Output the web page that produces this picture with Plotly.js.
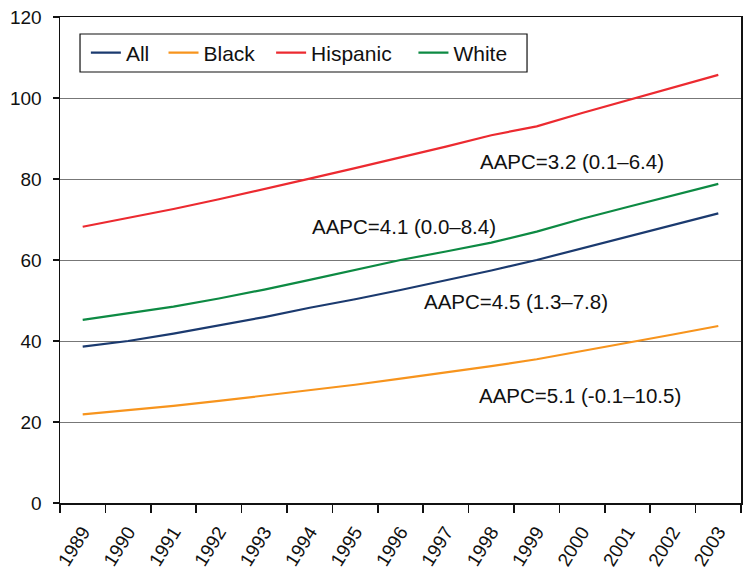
<!DOCTYPE html>
<html>
<head>
<meta charset="utf-8">
<script src="https://cdn.plot.ly/plotly-3.0.1.min.js"></script>
<style>
  html, body { margin: 0; padding: 0; background: #fff; }
  #chart { width: 752px; height: 578px; }
</style>
</head>
<body>
<div id="chart"></div>
<script>
(function () {
    'use strict';

    var years = ['1989', '1990', '1991', '1992', '1993', '1994', '1995', '1996',
                 '1997', '1998', '1999', '2000', '2001', '2002', '2003'];

    var allRates      = [38.6, 40.0, 41.8, 43.8, 45.9, 48.2, 50.3, 52.6, 55.0, 57.4, 60.0, 62.9, 65.8, 68.6, 71.5];
    var blackRates    = [21.9, 22.9, 24.0, 25.2, 26.5, 27.9, 29.2, 30.7, 32.2, 33.8, 35.5, 37.5, 39.6, 41.6, 43.7];
    var hispanicRates = [68.2, 70.4, 72.6, 75.0, 77.5, 80.1, 82.7, 85.3, 88.0, 90.8, 93.0, 96.3, 99.4, 102.6, 105.7];
    var whiteRates    = [45.2, 46.8, 48.5, 50.5, 52.7, 55.1, 57.5, 60.0, 62.1, 64.3, 67.0, 70.2, 73.1, 75.9, 78.8];

    var seriesNames  = ['All', 'Black', 'Hispanic', 'White'];
    var seriesColors = ['#1b3a6f', '#f7941d', '#ec2a30', '#0d8a43'];
    var seriesValues = [allRates, blackRates, hispanicRates, whiteRates];

    var aapcLabels = ['AAPC=3.2 (0.1\u20136.4)', 'AAPC=4.1 (0.0\u20138.4)',
                      'AAPC=4.5 (1.3\u20137.8)', 'AAPC=5.1 (-0.1\u201310.5)'];

    var font = 'Liberation Sans, Arial, sans-serif';

    // one legend per series so the entries sit where the original has them
    var legendIds = ['legend', 'legend2', 'legend3', 'legend4'];
    var legendX = [0.038, 0.152, 0.31, 0.519];

    var data = seriesNames.map(function (name, i) {
        return {
            x: years,
            y: seriesValues[i],
            type: 'scatter',
            mode: 'lines',
            name: name,
            legend: legendIds[i],
            line: { color: seriesColors[i], width: 2.2 }
        };
    });

    // label spots, in paper units of the plot area
    var labelPos = [[0.752, 0.702], [0.505, 0.568], [0.67, 0.414], [0.764, 0.222]];

    var annotations = aapcLabels.map(function (txt, i) {
        return {
            text: txt,
            xref: 'paper', yref: 'paper',
            x: labelPos[i][0], y: labelPos[i][1],
            xanchor: 'center', yanchor: 'middle',
            showarrow: false,
            font: { family: font, size: 20.5, color: '#111' }
        };
    });

    var layout = {
        width: 752,
        height: 578,
        margin: { l: 60, r: 11, t: 17, b: 75 },
        paper_bgcolor: '#fff',
        plot_bgcolor: '#fff',
        font: { family: font, size: 18, color: '#111' },
        showlegend: true,
        xaxis: {
            type: 'category',
            range: [-0.5, 14.5],
            tickson: 'boundaries',
            ticks: 'outside',
            ticklen: 8,
            tickwidth: 1.5,
            tickcolor: '#111',
            tickangle: -58,
            ticklabelstandoff: 9,
            tickfont: { family: font, size: 19, color: '#111' },
            showgrid: false,
            showline: true,
            linecolor: '#111',
            linewidth: 1.5,
            mirror: true,
            zeroline: false,
            fixedrange: true
        },
        yaxis: {
            range: [0, 120],
            dtick: 20,
            ticks: 'outside',
            ticklen: 6,
            tickwidth: 1.5,
            tickcolor: '#111',
            ticklabelstandoff: 7,
            tickfont: { family: font, size: 19, color: '#111' },
            showgrid: true,
            gridcolor: '#777',
            gridwidth: 1,
            showline: true,
            linecolor: '#111',
            linewidth: 1.5,
            mirror: true,
            zeroline: false,
            fixedrange: true
        },
        shapes: [{
            type: 'rect',
            xref: 'paper', yref: 'paper',
            x0: 0.0294, x1: 0.6858, y0: 0.8868, y1: 0.965,
            line: { color: '#111', width: 1.2 },
            fillcolor: '#fff',
            layer: 'above'
        }],
        annotations: annotations
    };

    legendIds.forEach(function (id, i) {
        layout[id] = {
            orientation: 'h',
            x: legendX[i], y: 0.926,
            xanchor: 'left', yanchor: 'middle',
            bgcolor: 'rgba(0,0,0,0)',
            borderwidth: 0,
            font: { family: font, size: 21, color: '#111' }
        };
    });

    Plotly.newPlot('chart', data, layout, { displayModeBar: false, staticPlot: true });
})();
</script>
</body>
</html>
